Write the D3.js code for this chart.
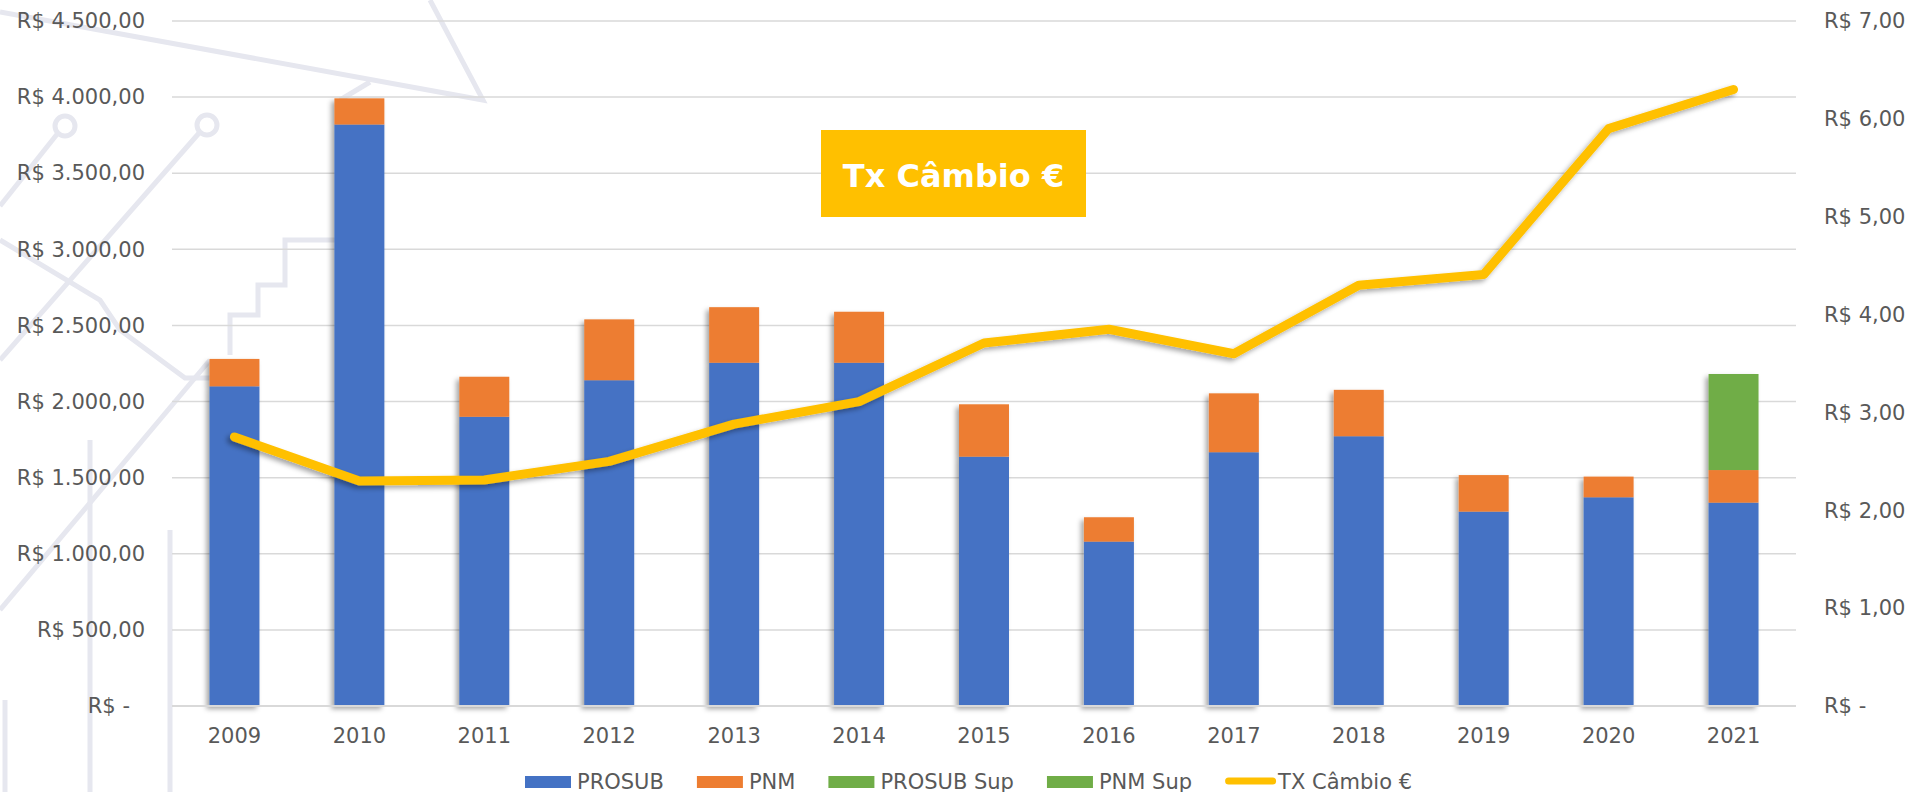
<!DOCTYPE html>
<html>
<head>
<meta charset="utf-8">
<script src="https://cdn.jsdelivr.net/npm/d3@7"></script>
<style>
  body { margin: 0; background: #ffffff; }
  svg { display: block; font-family: "DejaVu Sans", Verdana, sans-serif; }
</style>
</head>
<body>
<div id="chart"></div>
<script>
// Chart data
var years = ["2009", "2010", "2011", "2012", "2013", "2014", "2015", "2016", "2017", "2018", "2019", "2020", "2021"];
var prosub    = [2100, 3820, 1900, 2140, 2255, 2255, 1638, 1080, 1667, 1772, 1277, 1371, 1336];
var pnm       = [180, 172, 263, 400, 365, 335, 344, 160, 387, 305, 240, 136, 214];
var prosubSup = [0, 0, 0, 0, 0, 0, 0, 0, 0, 0, 0, 0, 631];
var pnmSup    = [0, 0, 0, 0, 0, 0, 0, 0, 0, 0, 0, 0, 0];
var txCambio  = [2.75, 2.30, 2.31, 2.50, 2.88, 3.11, 3.71, 3.85, 3.60, 4.30, 4.41, 5.90, 6.30];
var leftTicks  = [0, 500, 1000, 1500, 2000, 2500, 3000, 3500, 4000, 4500];
var rightTicks = [0, 1, 2, 3, 4, 5, 6, 7];
var seriesNames = ["PROSUB", "PNM", "PROSUB Sup", "PNM Sup"];
var lineName = "TX Câmbio €";
var titleText = "Tx Câmbio €";

var width = 1912, height = 792;
var plotLeft = 172, plotRight = 1796, plotTop = 21, plotBottom = 706;
var font = "'DejaVu Sans', Verdana, sans-serif";

var colors = { "PROSUB": "#4472C4", "PNM": "#ED7D31", "PROSUB Sup": "#70AD47", "PNM Sup": "#70AD47" };
var lineColor = "#FFC000";
var textColor = "#595959";

var table = years.map(function (yr, i) {
    return { year: yr, "PROSUB": prosub[i], "PNM": pnm[i], "PROSUB Sup": prosubSup[i], "PNM Sup": pnmSup[i], tx: txCambio[i] };
});

var br = d3.formatLocale({ decimal: ",", thousands: ".", grouping: [3], currency: ["R$ ", ""] });
var fmt = br.format(",.2f");
function money(v) { return v === 0 ? "R$ -" : "R$ " + fmt(v); }

var svg = d3.select("#chart").append("svg")
    .attr("width", width)
    .attr("height", height);

var defs = svg.append("defs");
var shadow = defs.append("filter").attr("id", "shadow")
    .attr("x", "-20%").attr("y", "-20%").attr("width", "140%").attr("height", "140%");
shadow.append("feDropShadow")
    .attr("dx", -3).attr("dy", 3).attr("stdDeviation", 2.5)
    .attr("flood-color", "#000").attr("flood-opacity", 0.35);

// faint background decoration (circuit style)
var deco = svg.append("g")
    .attr("fill", "none")
    .attr("stroke", "#E6E7EF")
    .attr("stroke-width", 5);
deco.append("path").attr("d", "M0,12 L483,100 L430,0");
deco.append("path").attr("d", "M370,82 L340,100");
deco.append("path").attr("d", "M58,133 L0,206");
deco.append("circle").attr("cx", 65).attr("cy", 126).attr("r", 10);
deco.append("path").attr("d", "M200,132 L0,360");
deco.append("circle").attr("cx", 207).attr("cy", 125).attr("r", 10);
deco.append("path").attr("d", "M230,355 L230,315 L258,315 L258,285 L285,285 L285,240 L335,240");
deco.append("path").attr("d", "M0,240 L100,300 L120,330 L185,378 L210,378");
deco.append("path").attr("d", "M210,360 L0,610");
deco.append("path").attr("d", "M170,530 L170,792");
deco.append("path").attr("d", "M90,440 L90,792");
deco.append("path").attr("d", "M5,700 L5,792");

var x = d3.scaleBand()
    .domain(years)
    .range([plotLeft, plotRight])
    .paddingInner(0.6)
    .paddingOuter(0.3);

var y = d3.scaleLinear().domain([0, 4500]).range([plotBottom, plotTop]);
var y2 = d3.scaleLinear().domain([0, 7]).range([plotBottom, plotTop]);

// gridlines
svg.append("g").selectAll("line")
    .data(leftTicks)
    .enter().append("line")
    .attr("x1", plotLeft).attr("x2", plotRight)
    .attr("y1", function (d) { return y(d); })
    .attr("y2", function (d) { return y(d); })
    .attr("stroke", "#D9D9D9")
    .attr("stroke-width", 1.5);

// left axis
var leftAxis = svg.append("g")
    .attr("transform", "translate(" + 145 + ",0)")
    .call(d3.axisLeft(y).tickValues(leftTicks).tickFormat(money).tickSize(0).tickPadding(0));
leftAxis.select(".domain").remove();
leftAxis.attr("font-family", font);
leftAxis.selectAll("text")
    .attr("fill", textColor)
    .style("font-size", "21px")
    .attr("dx", function (d) { return d === 0 ? -15 : 0; });

// right axis
var rightAxis = svg.append("g")
    .attr("transform", "translate(" + 1824 + ",0)")
    .call(d3.axisRight(y2).tickValues(rightTicks).tickFormat(money).tickSize(0).tickPadding(0));
rightAxis.select(".domain").remove();
rightAxis.attr("font-family", font);
rightAxis.selectAll("text")
    .attr("fill", textColor)
    .style("font-size", "21px");

// bottom axis
var bottomAxis = svg.append("g")
    .attr("transform", "translate(0," + plotBottom + ")")
    .call(d3.axisBottom(x).tickSize(0).tickPadding(0));
bottomAxis.select(".domain").remove();
bottomAxis.attr("font-family", font);
bottomAxis.selectAll("text")
    .attr("fill", textColor)
    .attr("y", 37)
    .attr("dy", 0)
    .style("font-size", "21px");

// stacked bars
var stacked = d3.stack().keys(seriesNames)(table);

svg.append("g")
    .attr("filter", "url(#shadow)")
    .selectAll("g")
    .data(stacked)
    .enter().append("g")
    .attr("fill", function (d) { return colors[d.key]; })
    .selectAll("rect")
    .data(function (d) { return d; })
    .enter().append("rect")
    .attr("x", function (d) { return x(d.data.year); })
    .attr("y", function (d) { return y(d[1]); })
    .attr("width", x.bandwidth())
    .attr("height", function (d) { return y(d[0]) - y(d[1]); });

// exchange rate line
var line = d3.line()
    .x(function (d) { return x(d.year) + x.bandwidth() / 2; })
    .y(function (d) { return y2(d.tx); });

svg.append("path")
    .datum(table)
    .attr("d", line)
    .attr("fill", "none")
    .attr("stroke", lineColor)
    .attr("stroke-width", 9)
    .attr("stroke-linejoin", "round")
    .attr("stroke-linecap", "round")
    .attr("filter", "url(#shadow)");

// x axis baseline
svg.append("line")
    .attr("x1", plotLeft).attr("x2", plotRight)
    .attr("y1", plotBottom).attr("y2", plotBottom)
    .attr("stroke", "#D9D9D9")
    .attr("stroke-width", 2);

// title box
var title = svg.append("g");
title.append("rect")
    .attr("x", 821).attr("y", 130)
    .attr("width", 265).attr("height", 87)
    .attr("fill", lineColor);
title.append("text")
    .attr("x", 953.5).attr("y", 187)
    .attr("text-anchor", "middle")
    .attr("fill", "#ffffff")
    .style("font-size", "32px")
    .style("font-weight", "bold")
    .text(titleText);

// legend
var legendItems = seriesNames.concat([lineName]);
var legend = svg.append("g").attr("transform", "translate(525,0)");
var cursor = 0;
legendItems.forEach(function (name) {
    var g = legend.append("g").attr("transform", "translate(" + cursor + ",0)");
    var sw = 46;
    if (name === lineName) {
        sw = 51;
        g.append("line")
            .attr("x1", 3.5).attr("x2", sw - 3.5)
            .attr("y1", 781).attr("y2", 781)
            .attr("stroke", lineColor)
            .attr("stroke-width", 7)
            .attr("stroke-linecap", "round");
    } else {
        g.append("rect")
            .attr("x", 0).attr("y", 776)
            .attr("width", sw).attr("height", 12)
            .attr("fill", colors[name]);
    }
    var t = g.append("text")
        .attr("x", sw + (name === lineName ? 2 : 6)).attr("y", 789)
        .attr("fill", textColor)
        .style("font-size", "21px")
        .text(name);
    cursor += sw + 6 + t.node().getComputedTextLength() + 33;
});
</script>
</body>
</html>
